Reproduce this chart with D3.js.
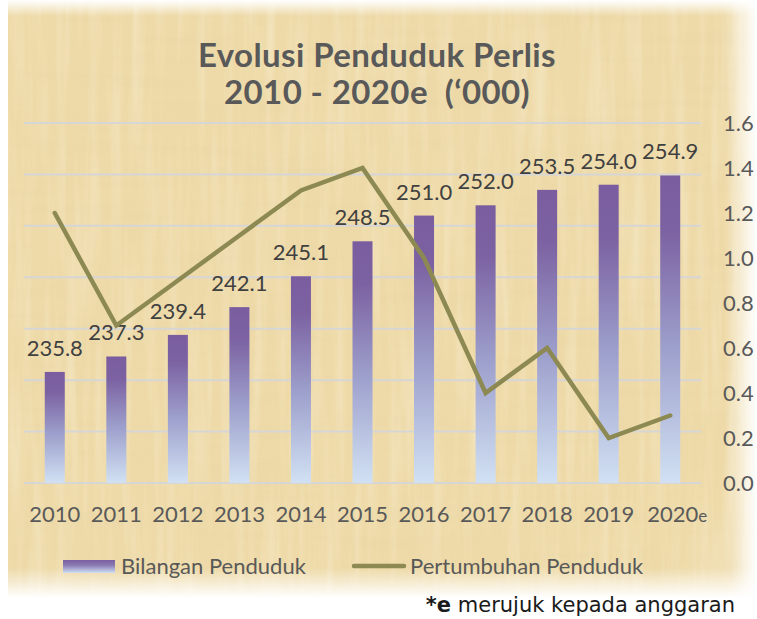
<!DOCTYPE html>
<html>
<head>
<meta charset="utf-8">
<script src="https://cdn.jsdelivr.net/npm/d3@7"></script>
<style>
  body { margin: 0; background: #fff; }
  svg { display: block; }
</style>
</head>
<body>
<div id="chart"></div>
<script>
// data
var years = ["2010", "2011", "2012", "2013", "2014", "2015", "2016", "2017", "2018", "2019", "2020"];
var population = [235.8, 237.3, 239.4, 242.1, 245.1, 248.5, 251.0, 252.0, 253.5, 254.0, 254.9];
var growth = [1.2, 0.7, 0.9, 1.1, 1.3, 1.4, 1.0, 0.4, 0.6, 0.2, 0.3];
var rightTicks = [0, 0.2, 0.4, 0.6, 0.8, 1.0, 1.2, 1.4, 1.6];
var titleLines = ["Evolusi Penduduk Perlis", "2010 - 2020e  (\u2018000)"];
var legendLabels = ["Bilangan Penduduk", "Pertumbuhan Penduduk"];

var W = 757, H = 619;
var plot = { left: 24, right: 701, top: 123, bottom: 483 };

var svg = d3.select("#chart").append("svg")
    .attr("width", W)
    .attr("height", H);

var defs = svg.append("defs");

// bar gradient (per bar)
var grad = defs.append("linearGradient")
    .attr("id", "barGrad")
    .attr("x1", 0).attr("y1", 0).attr("x2", 0).attr("y2", 1);
grad.append("stop").attr("offset", "0").attr("stop-color", "#7a5d9f");
grad.append("stop").attr("offset", "0.18").attr("stop-color", "#7c62a2");
grad.append("stop").attr("offset", "0.55").attr("stop-color", "#9c9ecb");
grad.append("stop").attr("offset", "1").attr("stop-color", "#d1e1f3");

// parchment texture
var f1 = defs.append("filter").attr("id", "paperH")
    .attr("x", 0).attr("y", 0).attr("width", "100%").attr("height", "100%");
f1.append("feTurbulence").attr("type", "fractalNoise")
    .attr("baseFrequency", "0.006 0.09").attr("numOctaves", 3).attr("seed", 4);
f1.append("feColorMatrix").attr("type", "matrix")
    .attr("values", "0 0 0 0 0.78  0 0 0 0 0.64  0 0 0 0 0.36  1.2 0 0 0 -0.55");
var f2 = defs.append("filter").attr("id", "paperV")
    .attr("x", 0).attr("y", 0).attr("width", "100%").attr("height", "100%");
f2.append("feTurbulence").attr("type", "fractalNoise")
    .attr("baseFrequency", "0.09 0.006").attr("numOctaves", 3).attr("seed", 9);
f2.append("feColorMatrix").attr("type", "matrix")
    .attr("values", "0 0 0 0 1  0 0 0 0 0.97  0 0 0 0 0.86  1.3 0 0 0 -0.55");

// edge fades
function fade(id, x1, y1, x2, y2) {
    var g = defs.append("linearGradient").attr("id", id)
        .attr("x1", x1).attr("y1", y1).attr("x2", x2).attr("y2", y2);
    g.append("stop").attr("offset", "0").attr("stop-color", "#fff").attr("stop-opacity", 0);
    g.append("stop").attr("offset", "1").attr("stop-color", "#fff").attr("stop-opacity", 1);
}
fade("fadeTop", 0, 1, 0, 0);
fade("fadeRight", 0, 0, 1, 0);
fade("fadeBottom", 0, 0, 0, 1);

var bg = svg.append("g");
bg.append("rect").attr("x", 8).attr("y", 0).attr("width", W - 8).attr("height", 600)
    .attr("fill", "#eedaa8");
bg.append("rect").attr("x", 8).attr("y", 0).attr("width", W - 8).attr("height", 600)
    .attr("filter", "url(#paperH)").attr("opacity", 0.45);
bg.append("rect").attr("x", 8).attr("y", 0).attr("width", W - 8).attr("height", 600)
    .attr("filter", "url(#paperV)").attr("opacity", 0.45);
bg.append("rect").attr("x", 8).attr("y", 0).attr("width", W - 8).attr("height", 16)
    .attr("fill", "url(#fadeTop)");
bg.append("rect").attr("x", 724).attr("y", 0).attr("width", 33).attr("height", 600)
    .attr("fill", "url(#fadeRight)");
bg.append("rect").attr("x", 8).attr("y", 568).attr("width", W - 8).attr("height", 30)
    .attr("fill", "url(#fadeBottom)");
bg.append("rect").attr("x", 0).attr("y", 597).attr("width", W).attr("height", H - 597)
    .attr("fill", "#fff");

// scales
var x = d3.scaleBand()
    .domain(years)
    .range([plot.left, plot.right])
    .paddingInner(0.675)
    .paddingOuter(0.3375);

var y = d3.scaleLinear()
    .domain([225, 260])
    .range([plot.bottom, plot.top]);

var y2 = d3.scaleLinear()
    .domain([0, 1.6])
    .range([plot.bottom, plot.top]);

var textCol = "#595959";
var labelFont = "Lato, sans-serif";

// gridlines
svg.append("g").selectAll("line")
    .data(d3.range(225, 261, 5))
    .enter().append("line")
    .attr("x1", plot.left).attr("x2", plot.right)
    .attr("y1", function (d) { return y(d); })
    .attr("y2", function (d) { return y(d); })
    .attr("stroke", "#d6d6d6")
    .attr("stroke-width", 2);

// bars
svg.append("g").selectAll("rect")
    .data(population)
    .enter().append("rect")
    .attr("x", function (d, i) { return x(years[i]); })
    .attr("y", function (d) { return y(d); })
    .attr("width", x.bandwidth())
    .attr("height", function (d) { return y(225) - y(d); })
    .attr("fill", "url(#barGrad)");

// bar value labels
svg.append("g").selectAll("text")
    .data(population)
    .enter().append("text")
    .attr("x", function (d, i) { return x(years[i]) + x.bandwidth() / 2; })
    .attr("y", function (d) { return y(d) - 16; })
    .attr("text-anchor", "middle")
    .attr("font-family", labelFont)
    .attr("font-size", 22)
    .attr("fill", "#404040")
    .text(function (d) { return d.toFixed(1); });

// growth line
var line = d3.line()
    .x(function (d, i) { return x(years[i]) + x.bandwidth() / 2; })
    .y(function (d) { return y2(d); });

svg.append("path")
    .datum(growth)
    .attr("d", line)
    .attr("fill", "none")
    .attr("stroke", "#8d8953")
    .attr("stroke-width", 4.5)
    .attr("stroke-linecap", "round")
    .attr("stroke-linejoin", "miter");

// right axis
var rAxis = svg.append("g")
    .attr("transform", "translate(715,0)")
    .call(d3.axisRight(y2).tickValues(rightTicks).tickFormat(d3.format(".1f")).tickSize(0).tickPadding(8));
rAxis.select(".domain").remove();
rAxis.selectAll("text")
    .attr("font-family", labelFont)
    .attr("font-size", 22)
    .attr("fill", textCol);

// bottom axis
var xAxis = svg.append("g")
    .attr("transform", "translate(0," + plot.bottom + ")")
    .call(d3.axisBottom(x).tickSize(0).tickPadding(23));
xAxis.select(".domain").remove();
xAxis.selectAll("text")
    .attr("font-family", labelFont)
    .attr("font-size", 22)
    .attr("fill", textCol);
xAxis.selectAll(".tick").filter(function (d) { return d === "2020"; })
    .select("text")
    .attr("text-anchor", "start")
    .attr("x", -x.bandwidth() - 3)
    .text("2020")
    .append("tspan").attr("font-size", 17).text("e");

// title
svg.append("g").selectAll("text")
    .data(titleLines)
    .enter().append("text")
    .attr("x", 377)
    .attr("y", function (d, i) { return 67 + i * 37; })
    .attr("text-anchor", "middle")
    .attr("font-family", labelFont)
    .attr("font-weight", "bold")
    .attr("font-size", 33)
    .attr("letter-spacing", 0.4)
    .attr("fill", textCol)
    .attr("xml:space", "preserve")
    .style("white-space", "pre")
    .text(function (d) { return d; });

// legend
var lg = svg.append("g");
var swGrad = defs.append("linearGradient").attr("id", "swGrad")
    .attr("x1", 0).attr("y1", 0).attr("x2", 0).attr("y2", 1);
swGrad.append("stop").attr("offset", "0").attr("stop-color", "#7a5d9f");
swGrad.append("stop").attr("offset", "0.4").attr("stop-color", "#8a7ab3");
swGrad.append("stop").attr("offset", "1").attr("stop-color", "#cfe0f3");
lg.append("rect").attr("x", 63).attr("y", 560).attr("width", 52).attr("height", 13)
    .attr("fill", "url(#swGrad)");
lg.append("text").attr("x", 121).attr("y", 574)
    .attr("font-family", labelFont).attr("font-size", 22).attr("fill", textCol)
    .text(legendLabels[0]);
lg.append("line").attr("x1", 354).attr("x2", 404).attr("y1", 566).attr("y2", 566)
    .attr("stroke", "#8d8953").attr("stroke-width", 4.5).attr("stroke-linecap", "round");
lg.append("text").attr("x", 410).attr("y", 574)
    .attr("font-family", labelFont).attr("font-size", 22).attr("fill", textCol)
    .text(legendLabels[1]);

// footnote
var fn = svg.append("text").attr("x", 735).attr("y", 612)
    .attr("text-anchor", "end")
    .attr("font-family", "'DejaVu Sans', sans-serif")
    .attr("font-size", 21)
    .attr("fill", "#1a1a1a");
fn.append("tspan").attr("font-weight", "bold").text("*e");
fn.append("tspan").text(" merujuk kepada anggaran");
</script>
</body>
</html>
